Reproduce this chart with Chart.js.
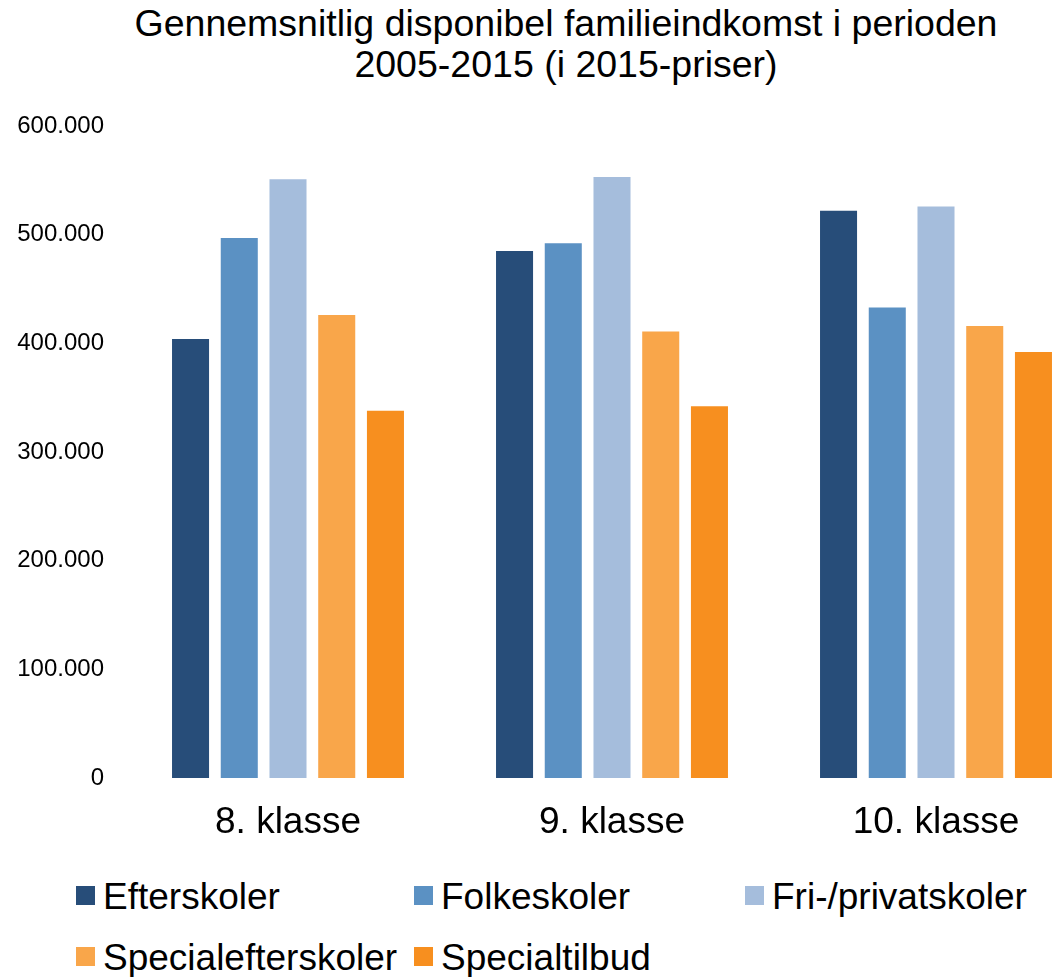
<!DOCTYPE html>
<html>
<head>
<meta charset="utf-8">
<script src="https://cdn.jsdelivr.net/npm/chart.js@4.4.0/dist/chart.umd.min.js"></script>
<style>
    html, body { margin: 0; padding: 0; background: #fff; }
    body { width: 1054px; height: 977px; overflow: hidden; position: relative;
           font-family: "Liberation Sans", Arial, sans-serif; color: #000; }
    #title { position: absolute; left: 0; top: 3px; width: 1132px; text-align: center;
             font-size: 37.5px; line-height: 41px; }
    #chart { position: absolute; left: 0; top: 0; }
    .legend-item { position: absolute; font-size: 37px; line-height: 37px; white-space: nowrap; }
    .legend-box { position: absolute; width: 19px; height: 19px; }
</style>
</head>
<body>
<div id="title">Gennemsnitlig disponibel familieindkomst i perioden<br>2005-2015 (i 2015-priser)</div>
<canvas id="chart" width="1132" height="860"></canvas>
<div id="legend"></div>
<script>
const klasser = ['8. klasse', '9. klasse', '10. klasse'];
const efterskoler = [404000, 485000, 522000];
const folkeskoler = [497000, 492000, 433000];
const friPrivatskoler = [551000, 553000, 526000];
const specialefterskoler = [426000, 411000, 416000];
const specialtilbud = [338000, 342000, 392000];

const FONT = '"Liberation Sans", Arial, sans-serif';

// dansk tusindtalsseparator
function formatDK(v) {
    return String(v).replace(/\B(?=(\d{3})+(?!\d))/g, '.');
}

const datasets = [
    { label: 'Efterskoler', data: efterskoler, backgroundColor: '#274D79' },
    { label: 'Folkeskoler', data: folkeskoler, backgroundColor: '#5B91C3' },
    { label: 'Fri-/privatskoler', data: friPrivatskoler, backgroundColor: '#A5BDDC' },
    { label: 'Specialefterskoler', data: specialefterskoler, backgroundColor: '#F9A64A' },
    { label: 'Specialtilbud', data: specialtilbud, backgroundColor: '#F78F1F' }
];

const chart = new Chart(document.getElementById('chart'), {
    type: 'bar',
    data: {
        labels: klasser,
        datasets: datasets.map(ds => Object.assign({
            categoryPercentage: 0.752,
            barPercentage: 0.76,
            borderWidth: 0
        }, ds))
    },
    options: {
        responsive: false,
        animation: false,
        devicePixelRatio: 1,
        layout: { padding: { top: 126, right: 34, bottom: 0, left: 0 } },
        plugins: {
            legend: { display: false },
            title: { display: false },
            tooltip: { enabled: false }
        },
        scales: {
            x: {
                grid: { display: false, drawTicks: false },
                border: { display: false },
                ticks: { color: '#000', padding: 23, font: { family: FONT, size: 37 } },
                afterFit: scale => { scale.height = 82; }
            },
            y: {
                min: 0,
                max: 600000,
                grid: { display: false, drawTicks: false },
                border: { display: false },
                ticks: {
                    stepSize: 100000,
                    color: '#000',
                    padding: 22,
                    font: { family: FONT, size: 24 },
                    callback: v => formatDK(v)
                },
                afterFit: scale => { scale.width = 126; }
            }
        }
    }
});

// legend i gitter, tre kolonner
const legendCols = [76, 414, 745];
const legendRows = [886, 947];
const legendEl = document.getElementById('legend');
chart.data.datasets.forEach((ds, i) => {
    const left = legendCols[i % 3];
    const top = legendRows[Math.floor(i / 3)];
    const box = document.createElement('div');
    box.className = 'legend-box';
    box.style.left = left + 'px';
    box.style.top = top + 'px';
    box.style.background = ds.backgroundColor;
    const txt = document.createElement('div');
    txt.className = 'legend-item';
    txt.style.left = (left + 27) + 'px';
    txt.style.top = (top - 8) + 'px';
    txt.textContent = ds.label;
    legendEl.appendChild(box);
    legendEl.appendChild(txt);
});
</script>
</body>
</html>
